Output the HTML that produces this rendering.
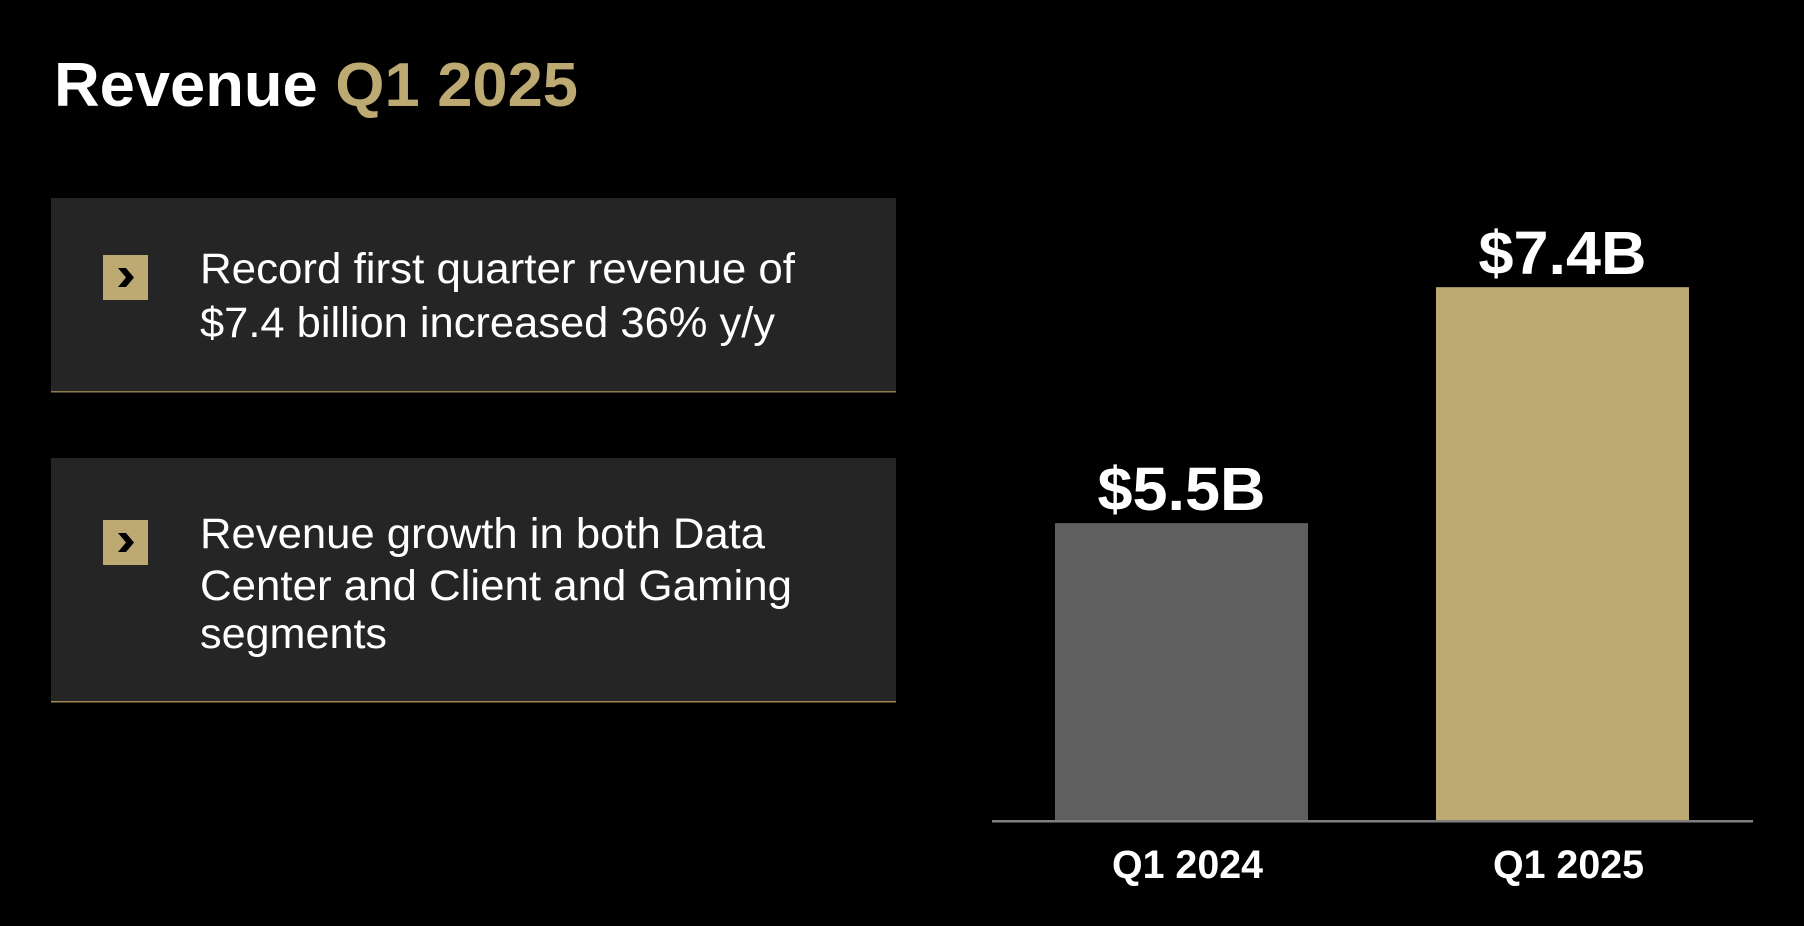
<!DOCTYPE html>
<html><head><meta charset="utf-8">
<style>
html,body{margin:0;padding:0;background:#000;}
svg{display:block;font-family:"Liberation Sans",Arial,sans-serif;}
</style></head>
<body>
<svg id="slide" width="1804" height="926" viewBox="0 0 1804 926">
  <rect x="0" y="0" width="1804" height="926" fill="#000"/>
  <text x="54" y="106" font-size="62" font-weight="bold" textLength="524" lengthAdjust="spacingAndGlyphs"><tspan fill="#fff">Revenue </tspan><tspan fill="#bdaa72">Q1 2025</tspan></text>

  <g>
    <rect x="51" y="198" width="845" height="194" fill="#252525"/>
    <rect x="51" y="391" width="845" height="1.5" fill="#8f7c4c"/>
    <rect x="103" y="255" width="45" height="45" fill="#bdaa72"/>
    <path d="M118 268 L126 268 L134 277.5 L126 287 L118 287 L126 277.5 Z" fill="#000"/>
    <text x="200" y="283" font-size="43" fill="#fff" textLength="595" lengthAdjust="spacingAndGlyphs">Record first quarter revenue of</text>
    <text x="200" y="337" font-size="43" fill="#fff" textLength="575" lengthAdjust="spacingAndGlyphs">$7.4 billion increased 36% y/y</text>
  </g>

  <g>
    <rect x="51" y="458" width="845" height="244" fill="#252525"/>
    <rect x="51" y="701" width="845" height="1.5" fill="#a08850"/>
    <rect x="103" y="520" width="45" height="45" fill="#bdaa72"/>
    <path d="M118 533 L126 533 L134 542.5 L126 552 L118 552 L126 542.5 Z" fill="#000"/>
    <text x="200" y="548" font-size="43" fill="#fff" textLength="565" lengthAdjust="spacingAndGlyphs">Revenue growth in both Data</text>
    <text x="200" y="600" font-size="43" fill="#fff" textLength="592" lengthAdjust="spacingAndGlyphs">Center and Client and Gaming</text>
    <text x="200" y="648" font-size="43" fill="#fff" textLength="187" lengthAdjust="spacingAndGlyphs">segments</text>
  </g>

  <g id="chart"></g>
</svg>
<script>
const categories = ["Q1 2024", "Q1 2025"];
const revenueValues = [5.5, 7.4];
const valueLabels = ["$5.5B", "$7.4B"];

(function(){
  const NS = "http://www.w3.org/2000/svg";
  const g = document.getElementById("chart");
  const baseY = 820, pxPerUnit = 124.2, axisMin = 3.11;
  const x0 = 1055, step = 381, barW = 253;
  const colors = ["#5f5f5f", "#bdaa72"];
  const yScale = v => baseY - (v - axisMin) * pxPerUnit;
  const xScale = i => x0 + i * step;
  function mk(tag, attrs){ const e = document.createElementNS(NS, tag); for (const k in attrs) e.setAttribute(k, attrs[k]); return e; }

  categories.forEach((c, i) => {
    const x = xScale(i), y = yScale(revenueValues[i]);
    const bar = mk("rect", {x: x, y: y, width: barW, height: baseY - y, fill: colors[i % colors.length]});
    
    
    g.appendChild(bar);

    const vl = mk("text", {x: x + barW / 2, y: y - 13, "text-anchor": "middle", "font-size": 61, "font-weight": "bold", fill: "#fff", textLength: 168, lengthAdjust: "spacingAndGlyphs"});
    vl.textContent = valueLabels[i];
    
    
    g.appendChild(vl);

    const cl = mk("text", {x: x + barW / 2 + 6, y: 878, "text-anchor": "middle", "font-size": 40, "font-weight": "bold", fill: "#fff", textLength: 151, lengthAdjust: "spacingAndGlyphs"});
    cl.textContent = c;
    
    
    g.appendChild(cl);
  });

  const axis = mk("rect", {x: 992, y: baseY, width: 761, height: 2.5, fill: "#808080"});
  
  
  g.appendChild(axis);
})();
</script>
</body></html>
